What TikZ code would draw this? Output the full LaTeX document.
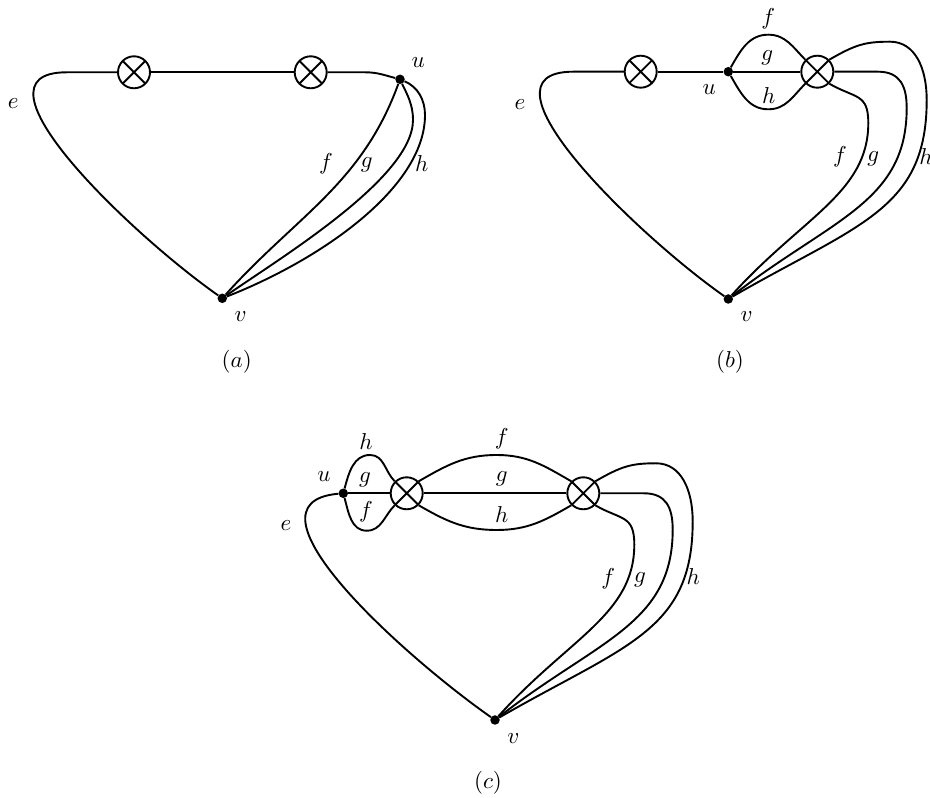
\documentclass[tikz,border=0pt]{standalone}
\usetikzlibrary{calc}
\tikzset{
  edge/.style={line width=1.9pt},
  otimesnode/.style={circle,draw,line width=1.9pt,minimum size=32pt,inner sep=0pt,
    path picture={\draw[line width=1.9pt] (path picture bounding box.north west) -- (path picture bounding box.south east)
      (path picture bounding box.north east) -- (path picture bounding box.south west);}},
  dotnode/.style={circle,fill=black,minimum size=9.5pt,inner sep=0pt},
  lab/.style={inner sep=0pt,scale=2.3}
}
\newcommand\rightfan[2]{%
  \draw[edge] (#1.-45) .. controls +(-30:30) and +(90:30) .. ($(#1)+(51,-51.3)$)
     .. controls +(0,-70) and +(48:110) .. (#2);
  \draw[edge] (#1.east) -- ($(#1)+(60.7,0)$) .. controls +(22,0) and +(0,22) .. ($(#1)+(89.4,-36.3)$)
     .. controls +(0,-95) and +(38:130) .. (#2);
  \draw[edge] (#1.45) .. controls +(30:30) and +(-25,0) .. ($(#1)+(72.7,30)$)
     .. controls +(25,0) and +(0,32) .. ($(#1)+(109.4,-28.3)$)
     .. controls +(0,-110) and +(30:150) .. (#2);
}
\begin{document}
\begin{tikzpicture}[x=1pt,y=1pt]
\path[use as bounding box] (0,0) rectangle (930,798);
% ---------- (a)
\node[otimesnode] (a1) at (134,725.7) {};
\node[otimesnode] (a2) at (310.7,725.7) {};
\node[dotnode] (au) at (400,718.7) {};
\node[dotnode] (av) at (222.3,499.7) {};
\coordinate (ae) at (66.7,725.7);
\coordinate (ar) at (365,725.7);
\coordinate (ag) at (413,678);
\coordinate (ah) at (425,683);
\draw[edge] (a1.west) -- (ae) to[out=180,in=145] (av);
\draw[edge] (a1.east) -- (a2.west);
\draw[edge] (a2.east) -- (ar) to[out=0,in=165] (au);
\draw[edge] (au) to[out=-110,in=48] (av);
\draw[edge] (au) .. controls +(-65:16) and +(0,16) .. (ag) .. controls +(0,-58) and (280,540) .. (av);
\draw[edge] (au) .. controls (418,711) and (425,698) .. (ah) .. controls +(0,-73) and (320,538) .. (av);
\node[lab] (la-e) at (13.3,694) {$e$};
\node[lab] (la-u) at (418.3,735.7) {$u$};
\node[lab] (la-v) at (240.7,481.3) {$v$};
\node[lab] (la-f) at (326,634.7) {$f$};
\node[lab] (la-g) at (366.7,633) {$g$};
\node[lab] (la-h) at (421.7,634.7) {$h$};
\node[lab] (capa) at (236.7,436) {$(a)$};
% ---------- (b)
\node[otimesnode] (b1) at (640.7,726.3) {};
\node[dotnode] (bu) at (728.3,726.3) {};
\node[otimesnode] (b2) at (817.3,726.3) {};
\node[dotnode] (bv) at (728.3,499) {};
\coordinate (be) at (573.3,726.3);
\coordinate (btop) at (768.3,763.3);
\coordinate (bbot) at (768.3,688.7);
\draw[edge] (b1.west) -- (be) to[out=180,in=145] (bv);
\draw[edge] (b1.east) -- (bu);
\draw[edge] (bu) -- (b2.west);
\draw[edge] (bu) to[out=60,in=180] (btop) to[out=0,in=135] (b2.135);
\draw[edge] (bu) to[out=-60,in=180] (bbot) to[out=0,in=-135] (b2.-135);
\rightfan{b2}{bv}
\node[lab] (lb-e) at (520,693.7) {$e$};
\node[lab] (lb-u) at (709.3,708) {$u$};
\node[lab] (lb-v) at (746.7,481.3) {$v$};
\node[lab] (lb-f1) at (768.3,779.7) {$f$};
\node[lab] (lb-g1) at (767.3,740.7) {$g$};
\node[lab] (lb-h1) at (768.7,702) {$h$};
\node[lab] (lb-f2) at (840,641.3) {$f$};
\node[lab] (lb-g2) at (873.3,639) {$g$};
\node[lab] (lb-h2) at (926,641.3) {$h$};
\node[lab] (capb) at (730,436) {$(b)$};
% ---------- (c)
\node[dotnode] (cu) at (343.3,304.7) {};
\node[otimesnode] (c1) at (406.7,304.7) {};
\node[otimesnode] (c2) at (583.3,304.7) {};
\node[dotnode] (cv) at (495,78) {};
\coordinate (cstop) at (370,343);
\coordinate (csbot) at (366.7,267.3);
\coordinate (cbtop) at (496.7,343);
\coordinate (cbbot) at (496.7,268);
\draw[edge] (cu) to[out=185,in=145] (cv);
\draw[edge] (cu) -- (c1.west);
\draw[edge] (cu) to[out=75,in=180] (cstop) to[out=0,in=135] (c1.135);
\draw[edge] (cu) to[out=-75,in=180] (csbot) to[out=0,in=-135] (c1.-135);
\draw[edge] (c1.east) -- (c2.west);
\draw[edge] (c1.45) to[out=30,in=180] (cbtop) to[out=0,in=150] (c2.135);
\draw[edge] (c1.-45) to[out=-30,in=180] (cbbot) to[out=0,in=-150] (c2.-135);
\rightfan{c2}{cv}
\node[lab] (lc-e) at (286,272.3) {$e$};
\node[lab] (lc-u) at (324,321.3) {$u$};
\node[lab] (lc-h1) at (366,356.3) {$h$};
\node[lab] (lc-g1) at (365,318) {$g$};
\node[lab] (lc-f1) at (366,286.3) {$f$};
\node[lab] (lc-f2) at (501.7,359.7) {$f$};
\node[lab] (lc-g2) at (501.7,319) {$g$};
\node[lab] (lc-h2) at (501.7,283) {$h$};
\node[lab] (lc-f3) at (608.3,219.7) {$f$};
\node[lab] (lc-g3) at (640,218) {$g$};
\node[lab] (lc-h3) at (693.3,221.3) {$h$};
\node[lab] (lc-v) at (513.3,59.7) {$v$};
\node[lab] (capc) at (488,15) {$(c)$};
\end{tikzpicture}
\end{document}
